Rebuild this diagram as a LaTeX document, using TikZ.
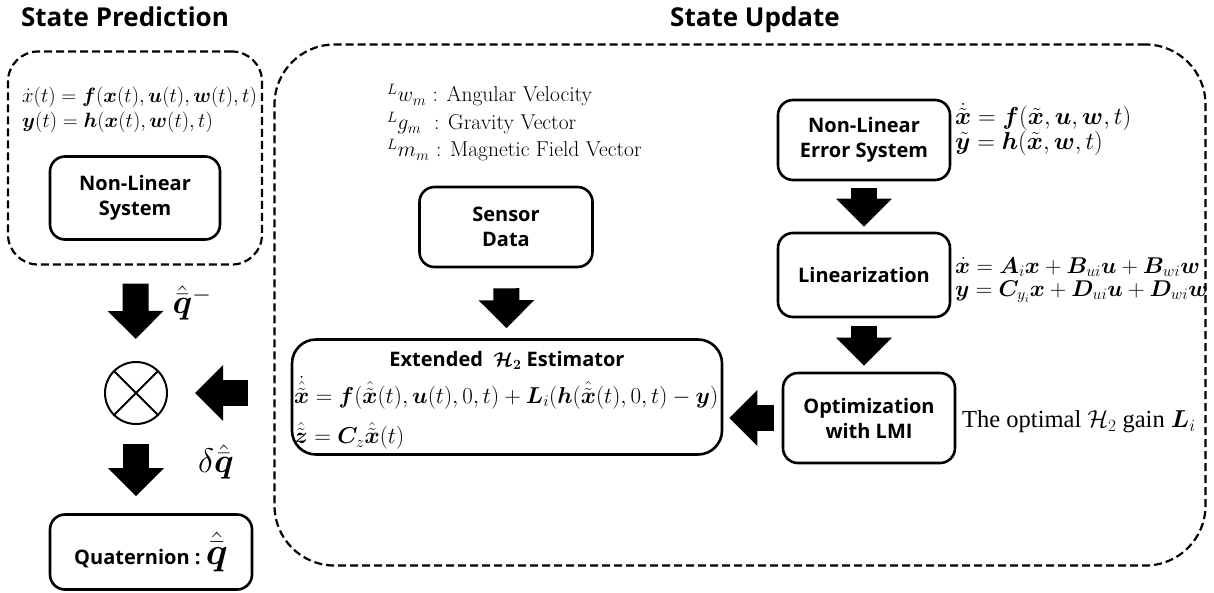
\RequirePackage{fix-cm}
\documentclass[tikz,border=0pt]{standalone}
\usepackage{amsmath,bm}
\usepackage{fontspec}
\setsansfont{Open Sans}
\newfontfamily\timesfont{Liberation Serif}
\usetikzlibrary{arrows.meta}

\tikzset{
  block/.style={draw, line width=2.6pt, rounded corners=15pt, align=center,
    font=\sffamily\bfseries\fontsize{20}{25}\selectfont},
  group/.style={draw, dash pattern=on 8pt off 4pt, line width=2.2pt},
  fat/.style={line width=26pt, -{Triangle[length=28pt,width=54pt]}},
  eqn/.style={anchor=west, inner sep=0pt},
  qlabel/.style={inner sep=0pt, font=\fontsize{34}{38}\selectfont},
}

\begin{document}
\begin{tikzpicture}[x=1pt,y=-1pt]
        \useasboundingbox (0,0) rectangle (1214,592);

        % titles
        \begin{scope}[every node/.style={font=\sffamily\bfseries\fontsize{26}{30}\selectfont}]
          \node (ttlpred) at (125,17) {State Prediction};
          \node (ttlupd)  at (755,20) {State Update};
        \end{scope}

        % dashed groups
        \node[group, minimum width=254pt, minimum height=213pt, rounded corners=30pt] (pred) at (135,158) {};
        \node[group, minimum width=931pt, minimum height=521pt, rounded corners=60pt] (upd)  at (740,305) {};

        % blocks
        \begin{scope}[every node/.style={block}]
          \node[minimum width=170pt, minimum height=83pt] (nls)   at (135,198) {Non-Linear\\System};
          \node[minimum width=202pt, minimum height=75pt] (quat)  at (151,552) {Quaternion :\ {\fontsize{38}{42}\selectfont$\hat{\bar{\bm q}}$}};
          \node[minimum width=173pt, minimum height=80pt] (sensor) at (506,227) {Sensor\\Data};
          \node[minimum width=430pt, minimum height=115pt, rounded corners=24pt] (est) at (507,397) {};
          \node[minimum width=172pt, minimum height=80pt] (nle)   at (864,140) {Non-Linear\\Error System};
          \node[minimum width=172pt, minimum height=84pt] (lin)   at (864,275) {Linearization};
          \node[minimum width=172pt, minimum height=90pt] (opt)   at (869,418) {Optimization\\with LMI};
        \end{scope}

        \node[font=\sffamily\bfseries\fontsize{20}{25}\selectfont] (esttitle) at (507,360)
          {Extended \ $\bm{\mathcal{H}}_{\bm{2}}$ Estimator};

        % equations
        \begin{scope}[every node/.style={eqn, font=\fontsize{20.7}{24}\selectfont}]
          \node (predf) at (22,97)  {$\dot{x}(t)=\bm f(\bm x(t),\bm u(t),\bm w(t),t)$};
          \node (predh) at (22,122) {$\bm y(t)=\bm h(\bm x(t),\bm w(t),t)$};
        \end{scope}
        \begin{scope}[every node/.style={eqn, font=\fontsize{23}{26}\selectfont}]
          \node (estf)  at (294,393) {$\dot{\hat{\tilde{\bm x}}}=\bm f(\hat{\tilde{\bm x}}(t),\bm u(t),0,t)+\bm L_i(\bm h(\hat{\tilde{\bm x}}(t),0,t)-\bm y)$};
          \node (estz)  at (294,436) {$\hat{\tilde{\bm z}}=\bm C_z\hat{\tilde{\bm x}}(t)$};
        \end{scope}
        \begin{scope}[every node/.style={eqn, font=\fontsize{24.5}{27}\selectfont}]
          \node (nlef)  at (955,117) {$\dot{\tilde{\bm x}}=\bm f(\tilde{\bm x},\bm u,\bm w,t)$};
          \node (nleh)  at (955,143) {$\tilde{\bm y}=\bm h(\tilde{\bm x},\bm w,t)$};
        \end{scope}
        \begin{scope}[every node/.style={eqn, font=\fontsize{22.8}{26}\selectfont}]
          \node (linf)  at (955,267) {$\dot{\bm x}=\bm A_i\bm x+\bm B_{ui}\bm u+\bm B_{wi}\bm w$};
          \node (linh)  at (955,292) {$\bm y=\bm C_{y_i}\bm x+\bm D_{ui}\bm u+\bm D_{wi}\bm w$};
        \end{scope}

        % sensor signals
        \begin{scope}[every node/.style={anchor=west, inner sep=0pt, font=\fontsize{21.5}{24}\selectfont}]
          \node (sigw) at (387,95)  {$^{L}w_{m}$ : Angular Velocity};
          \node (sigg) at (387,123) {$^{L}g_{m}$\ \ : Gravity Vector};
          \node (sigm) at (387,150) {$^{L}m_{m}$ : Magnetic Field Vector};
        \end{scope}

        \node[anchor=west, inner sep=0pt, font=\timesfont\fontsize{24.5}{28}\selectfont] (gain) at (962,422)
          {The optimal $\mathcal{H}_2$ gain $\bm L_i$};

        % quaternion product
        \node[circle, draw, line width=2pt, minimum size=62pt, inner sep=0pt] (mult) at (136,393) {};
        \draw[line width=2pt] (mult.45) -- (mult.225) (mult.135) -- (mult.315);

        \node[qlabel] (qminus) at (192,303) {$\hat{\bar{\bm q}}^{-}$};
        \node[qlabel] (dq)     at (216,462) {$\delta\hat{\bar{\bm q}}$};

        % block arrows
        \draw[fat, shorten <=18pt, shorten >=22pt] (pred) -- (mult);
        \draw[fat, shorten <=25pt, shorten >=27pt] (mult -| upd.west) -- (mult);
        \draw[fat, shorten <=19pt, shorten >=17pt] (mult) -- (mult |- quat.north);
        \draw[fat, shorten <=20pt, shorten >=10pt] (sensor) -- (est);
        \draw[fat, shorten <=7pt, shorten >=5pt] (nle) -- (lin);
        \draw[fat, shorten <=8pt, shorten >=6pt] (lin) -- (lin |- opt.north);
        \draw[fat, shorten <=8pt, shorten >=6pt] (opt) -- (opt -| est.east);

      \end{tikzpicture}
\end{document}
